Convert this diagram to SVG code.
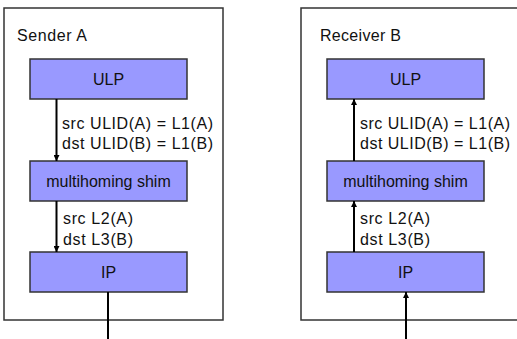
<svg xmlns="http://www.w3.org/2000/svg" width="517" height="339" viewBox="0 0 517 339">
<defs>
<style>
.outer{fill:#fff;stroke:#333;stroke-width:1.5}
.layer{fill:#9999ff;stroke:#333;stroke-width:1.5}
text{font-family:"Liberation Sans",Arial,sans-serif;font-size:16px;fill:#111}
.c{text-anchor:middle}
.line{stroke:#000;stroke-width:2;fill:none}
</style>
<marker id="ah" viewBox="0 0 10 10" refX="10" refY="5" markerWidth="6" markerHeight="6" orient="auto" markerUnits="userSpaceOnUse">
<path d="M0,0 L10,5 L0,10 z" fill="#000"/>
</marker>
</defs>
<rect width="517" height="339" fill="#fff"/>
<g id="senderA">
<rect class="outer" x="4" y="8" width="219" height="312"/>
<text x="17" y="41" textLength="70" lengthAdjust="spacing">Sender A</text>
</g>
<g id="receiverB">
<rect class="outer" x="301" y="8" width="230" height="312"/>
<text x="320" y="41" textLength="81" lengthAdjust="spacing">Receiver B</text>
</g>
<g id="ulpA"><rect class="layer" x="30" y="59" width="157" height="40"/><text class="c" x="108.5" y="85">ULP</text></g>
<g id="shimA"><rect class="layer" x="30" y="161" width="157" height="40"/><text class="c" x="108.5" y="187">multihoming shim</text></g>
<g id="ipA"><rect class="layer" x="30" y="252" width="157" height="40"/><text class="c" x="108.5" y="278">IP</text></g>
<g id="ulpB"><rect class="layer" x="327" y="59" width="157" height="40"/><text class="c" x="405.5" y="85">ULP</text></g>
<g id="shimB"><rect class="layer" x="327" y="161" width="157" height="40"/><text class="c" x="405.5" y="187">multihoming shim</text></g>
<g id="ipB"><rect class="layer" x="327" y="252" width="157" height="40"/><text class="c" x="405.5" y="278">IP</text></g>
<g id="connectors">
<line class="line" x1="56.5" y1="99" x2="56.5" y2="161" marker-end="url(#ah)"/>
<line class="line" x1="56.5" y1="201" x2="56.5" y2="252" marker-end="url(#ah)"/>
<line class="line" x1="108" y1="292" x2="108" y2="339"/>
<line class="line" x1="354" y1="161" x2="354" y2="99" marker-end="url(#ah)"/>
<line class="line" x1="354" y1="252" x2="354" y2="201" marker-end="url(#ah)"/>
<line class="line" x1="406" y1="339" x2="406" y2="292" marker-end="url(#ah)"/>
</g>
<g id="labels">
<text x="62" y="129" textLength="151" lengthAdjust="spacing">src ULID(A) = L1(A)</text>
<text x="62" y="149" textLength="151" lengthAdjust="spacing">dst ULID(B) = L1(B)</text>
<text x="63" y="224" textLength="70" lengthAdjust="spacing">src L2(A)</text>
<text x="63" y="245" textLength="70" lengthAdjust="spacing">dst L3(B)</text>
<text x="360" y="129" textLength="150" lengthAdjust="spacing">src ULID(A) = L1(A)</text>
<text x="360" y="149" textLength="150" lengthAdjust="spacing">dst ULID(B) = L1(B)</text>
<text x="360" y="224" textLength="70" lengthAdjust="spacing">src L2(A)</text>
<text x="360" y="245" textLength="70" lengthAdjust="spacing">dst L3(B)</text>
</g>
</svg>
